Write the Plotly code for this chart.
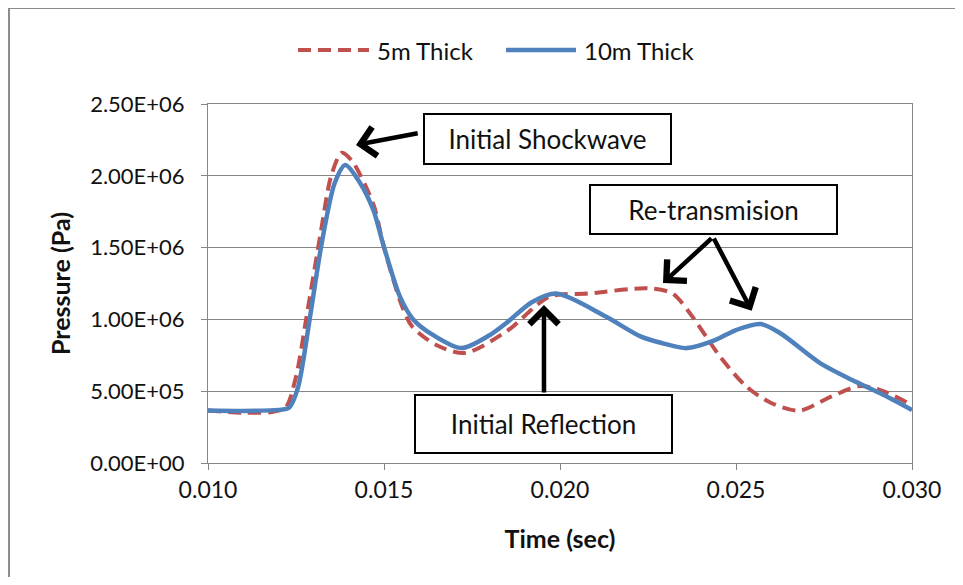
import plotly.graph_objects as go

# ---- data ----
t_10m = [0.0100, 0.0110, 0.0120, 0.0123, 0.01255, 0.0129, 0.01323, 0.0136, 0.0139,
         0.01432, 0.0147, 0.01497, 0.01545, 0.01583, 0.0164, 0.0172, 0.0180, 0.0185,
         0.0192, 0.0199, 0.0213, 0.0223, 0.0229, 0.0236, 0.02435, 0.0250, 0.0257,
         0.02625, 0.0274, 0.0283, 0.0291, 0.0300]
p_10m = [3.65e5, 3.62e5, 3.70e5, 3.85e5, 5.2e5, 1.02e6, 1.53e6, 1.95e6, 2.075e6,
         1.95e6, 1.76e6, 1.53e6, 1.16e6, 1.0e6, 8.9e5, 8.0e5, 8.9e5, 9.8e5,
         1.12e6, 1.18e6, 1.02e6, 8.8e5, 8.35e5, 8.0e5, 8.5e5, 9.26e5, 9.68e5,
         9.05e5, 6.94e5, 5.78e5, 4.85e5, 3.69e5]

t_5m = [0.0100, 0.0110, 0.0118, 0.0122, 0.0125, 0.0128, 0.0132, 0.0135, 0.0138,
        0.0141, 0.0147, 0.0150, 0.0155, 0.0158, 0.0165, 0.0173, 0.0185, 0.0197,
        0.0208, 0.0225, 0.0232, 0.0237, 0.02455, 0.0253, 0.0260, 0.0268, 0.0277,
        0.0285, 0.0291, 0.0300]
p_5m = [3.65e5, 3.50e5, 3.55e5, 3.85e5, 6.0e5, 1.02e6, 1.6e6, 2.0e6, 2.16e6,
        2.1e6, 1.8e6, 1.5e6, 1.1e6, 9.5e5, 8.2e5, 7.66e5, 9.2e5, 1.158e6,
        1.18e6, 1.217e6, 1.18e6, 1.04e6, 7.4e5, 5.31e5, 4.18e5, 3.64e5, 4.62e5,
        5.36e5, 5.08e5, 4.04e5]

series_names = ["5m Thick", "10m Thick"]
x_ticks = [0.010, 0.015, 0.020, 0.025, 0.030]
x_ticklabels = ["0.010", "0.015", "0.020", "0.025", "0.030"]
y_ticks = [0, 5e5, 1e6, 1.5e6, 2e6, 2.5e6]
y_ticklabels = ["0.00E+00", "5.00E+05", "1.00E+06", "1.50E+06", "2.00E+06", "2.50E+06"]

RED = "#C0504D"
BLUE = "#4F81BD"
GRID = "#868686"
FONT = "Lato"
TXT = "#111111"

fig = go.Figure()
fig.add_trace(go.Scatter(x=t_5m, y=p_5m, mode="lines", name=series_names[0],
                         line=dict(color=RED, width=4, dash="13px,7px", shape="spline", smoothing=0.8),
                         showlegend=False))
fig.add_trace(go.Scatter(x=t_10m, y=p_10m, mode="lines", name=series_names[1],
                         line=dict(color=BLUE, width=4.5, shape="spline", smoothing=0.8),
                         showlegend=False))

OFF = 8  # page body margin
W, H = 947, 569
L, T = 208 - OFF, 104 - OFF
pw, ph = 704, 359
R = W - L - pw
B = H - T - ph

def px_x(px):  # page pixel -> paper
    return (px - 208) / pw

def px_y(py):
    return (463 - py) / ph

# custom legend (wide line samples like the original)
shapes = []
shapes.append(dict(type="line", xref="paper", yref="paper", x0=px_x(298), x1=px_x(369),
                   y0=px_y(50), y1=px_y(50), line=dict(color=RED, width=4, dash="13px,7px")))
shapes.append(dict(type="line", xref="paper", yref="paper", x0=px_x(506), x1=px_x(576),
                   y0=px_y(50), y1=px_y(50), line=dict(color=BLUE, width=4.5)))
# outer chart border
shapes.append(dict(type="rect", xref="paper", yref="paper", x0=px_x(9), x1=px_x(990),
                   y0=px_y(620), y1=px_y(8), line=dict(color="#8c8c8c", width=2), layer="below"))

annotations = []
annotations.append(dict(xref="paper", yref="paper", x=px_x(375), y=px_y(50), text=series_names[0],
                        showarrow=False, xanchor="left", yanchor="middle",
                        font=dict(family=FONT, size=24, color=TXT)))
annotations.append(dict(xref="paper", yref="paper", x=px_x(582), y=px_y(50), text=series_names[1],
                        showarrow=False, xanchor="left", yanchor="middle",
                        font=dict(family=FONT, size=24, color=TXT)))

# text boxes
def box(text, cx, cy, w, h):
    return dict(xref="x", yref="y", x=cx, y=cy, text=text, showarrow=False,
                width=w, height=h, bgcolor="white", bordercolor="black", borderwidth=2,
                borderpad=0, xanchor="center", yanchor="middle", align="center", valign="middle",
                font=dict(family=FONT, size=26, color=TXT))

annotations.append(box("Initial Shockwave", 0.019645, 2.2563e6, 245, 48))
annotations.append(box("Re-transmision", 0.024347, 1.7653e6, 245, 47))
annotations.append(box("Initial Reflection", 0.019526, 2.716e5, 255, 56))

def arrow(x, y, ax, ay):
    return dict(xref="x", yref="y", axref="x", ayref="y", x=x, y=y, ax=ax, ay=ay, text="",
                showarrow=True, arrowhead=4, arrowsize=1.25, arrowwidth=4.5, arrowcolor="black",
                standoff=0, startstandoff=0)

annotations.append(arrow(0.014205, 2.2145e6, 0.016000, 2.298e6))
annotations.append(arrow(0.022926, 1.2535e6, 0.024347, 1.5738e6))
annotations.append(arrow(0.025446, 1.0606e6, 0.024347, 1.5738e6))
annotations.append(arrow(0.019545, 1.1003e6, 0.019545, 4.805e5))

fig.update_layout(
    width=W, height=H,
    margin=dict(l=L, r=R, t=T, b=B, pad=0),
    paper_bgcolor="white", plot_bgcolor="white",
    font=dict(family=FONT, size=23, color=TXT),
    shapes=shapes, annotations=annotations,
    showlegend=False,
)
fig.update_xaxes(range=[0.010, 0.030], tickvals=x_ticks, ticktext=x_ticklabels,
                 showgrid=False, showline=True, linecolor=GRID, linewidth=1, mirror=True,
                 ticks="outside", ticklen=6, tickcolor=GRID, zeroline=False,
                 tickfont=dict(family=FONT, size=23, color=TXT),
                 title=dict(text="<b>Time (sec)</b>", standoff=28,
                            font=dict(family=FONT, size=25, color=TXT)))
fig.update_yaxes(range=[0, 2.5e6], tickvals=y_ticks, ticktext=y_ticklabels,
                 showgrid=True, gridcolor=GRID, gridwidth=1,
                 showline=True, linecolor=GRID, linewidth=1, mirror=True,
                 ticks="outside", ticklen=6, tickcolor=GRID, zeroline=False,
                 ticklabelstandoff=12,
                 tickfont=dict(family=FONT, size=22, color=TXT),
                 title=dict(text="<b>Pressure (Pa)</b>", standoff=12,
                            font=dict(family=FONT, size=25, color=TXT)))

fig.write_html("out.html")
